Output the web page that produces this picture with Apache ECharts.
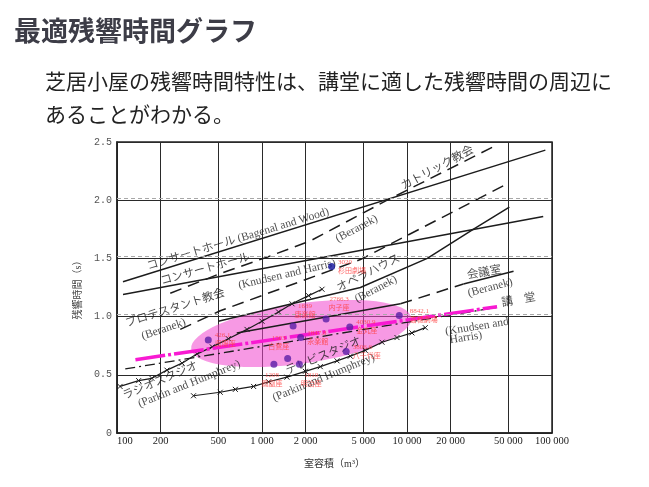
<!DOCTYPE html>
<html><head><meta charset="utf-8">
<script src="https://cdn.jsdelivr.net/npm/echarts@6/dist/echarts.min.js"></script>
<style>html,body{margin:0;padding:0;background:#fff}#c{width:649px;height:487px}</style>
</head><body><div id="c"></div>
<script>
// ---------------- data ----------------
const xTickValues = [100, 200, 500, 1000, 2000, 5000, 10000, 20000, 50000, 100000];
const yTickStep = 0.5;

// optimum reverberation curves: [room volume m3, reverberation time s]
const bagenalWood    = [[110, 1.30], [90000, 2.43]];
const concertBeranek = [[233, 1.20], [515, 1.37], [1080, 1.51], [2150, 1.65], [7300, 2.00], [39500, 2.46]];
const concertKnudsen = [[110, 1.19], [87000, 1.86]];
const protestant     = [[273, 0.89], [515, 1.05], [4770, 1.49], [49000, 2.14]];
const opera          = [[500, 0.96], [4770, 1.25], [13800, 1.50], [28600, 1.75], [50800, 1.94]];
const conference     = [[670, 0.86], [9000, 1.11], [24500, 1.28], [54300, 1.39]];
const auditorium     = [[114, 0.55], [42000, 1.08]];
const auditoriumPink = [[134, 0.63], [41800, 1.085]];
const radioStudio    = [[105, 0.40], [141, 0.45], [174, 0.47], [221, 0.54], [281, 0.60], [357, 0.68], [454, 0.74], [586, 0.81], [788, 0.89], [1000, 0.96], [1300, 1.04], [1610, 1.11], [2095, 1.18], [2594, 1.235]];
const tvStudio       = [[337, 0.32], [515, 0.35], [655, 0.375], [875, 0.40], [1111, 0.44], [1486, 0.48], [1990, 0.53], [2524, 0.57], [3290, 0.62], [4064, 0.66], [5150, 0.71], [6724, 0.78], [8530, 0.82], [10810, 0.86], [13370, 0.905]];

// measured theatres (芝居小屋)
const hallNames   = ['呉服座', '康楽館', '内子座', '嘉穂劇場', '金丸座', '永楽館', '白鷺座', '鳳凰座', '明治座', '八千代座'];
const hallVolumes = [426.1, 1639, 2766.3, 8842.1, 4030.9, 1847.8, 1503, 1208, 1810, 3806.6];
const hallRT      = [0.80, 0.92, 0.98, 1.01, 0.91, 0.82, 0.64, 0.59, 0.59, 0.70];
const refNames    = ['杉田劇場'];
const refVolumes  = [3020];
const refRT       = [1.43];

// highlighted region (major-axis ends, data space)
const ellipseEnds = [[325, 0.72], [10700, 0.99]];

// dashed guide lines from the slide overlay
const guideRT = [2.02, 1.52, 1.025];

// curve labels
const curveLabelText = ['コンサートホール (Bagenal and Wood)', 'コンサートホール', '(Beranek)', '(Knudsen and Harris)', 'カトリック教会', 'オペラハウス', '(Beranek)', 'プロテスタント教会', '(Beranek)', '会議室', '(Beranek)', '講　堂', '(Knudsen and', 'Harris)', 'ラジオスタジオ', '(Parkin and Humphrey)', 'テレビスタジオ', '(Parkin and Humphrey)'];
const curveLabelVol  = [683, 406, 4500, 1486, 16250, 5430, 6110, 252, 210, 34100, 37500, 58900, 30400, 25500, 199, 315, 2660, 2660];
const curveLabelRT   = [1.665, 1.406, 1.755, 1.363, 2.275, 1.372, 1.235, 1.071, 0.891, 1.377, 1.248, 1.14, 0.913, 0.819, 0.447, 0.421, 0.661, 0.475];

// ---------------- styles ----------------
const curveLabelAngle = [17, 15.6, 28, 13.2, 28.2, 26.6, 27.4, 17.5, 18.4, 10, 15, 10, 9, 9, 23, 22, 22.4, 22.4];
const hallLabelPos    = ['right', 'top', 'top', 'right', 'right', 'right', 'top', 'bottom', 'bottom', 'right'];
const hallLabelOffset = [[0, 0], [12, 0], [13, 0], [4, 0], [0, 0], [0, 0], [-9, 0], [-2, 0], [12, 0], [0, 0]];
const conferenceSegType = ['solid', [12, 7], 'solid'];
const ink = '#1c1c1c';
const serif = '"Liberation Serif", "Noto Sans CJK JP", serif';
const xMark = 'path://M0 0L10 10M10 0L0 10';

function fmtVol(v) { return String(Math.round(v)).replace(/\B(?=(\d{3})+(?!\d))/g, ' '); }
function curve(data, type, width, z) {
  return { type: 'line', data: data, symbol: 'none', showSymbol: false, silent: true, z: z || 3,
    lineStyle: { color: ink, width: width || 1.5, type: type || 'solid' } };
}
function marked(data) {
  return { type: 'line', data: data, symbol: xMark, symbolSize: 5, showSymbol: true, silent: true, z: 3,
    itemStyle: { color: 'rgba(0,0,0,0)', borderColor: ink, borderWidth: 1 },
    lineStyle: { color: ink, width: 1.2 } };
}

const series = [];
// highlighted ellipse
series.push({
  type: 'custom', silent: true, z: 1, data: [[1000, 1]],
  renderItem: function (params, api) {
    const p1 = api.coord(ellipseEnds[0]), p2 = api.coord(ellipseEnds[1]);
    const dx = p2[0] - p1[0], dy = p2[1] - p1[1];
    const a = Math.hypot(dx, dy) / 2, b = 30;
    return { type: 'circle', shape: { cx: 0, cy: 0, r: b },
      x: (p1[0] + p2[0]) / 2, y: (p1[1] + p2[1]) / 2, scaleX: a / b, scaleY: 1,
      rotation: Math.atan2(-dy, dx),
      style: { fill: 'rgba(240,70,205,0.55)' } };
  }
});
// curves
const bw = curve(bagenalWood);
bw.markLine = { silent: true, symbol: 'none', label: { show: false },
  lineStyle: { color: '#a8a8a8', type: [4, 3], width: 1 },
  data: guideRT.map(v => ({ yAxis: v })) };
series.push(bw);
series.push(curve(concertBeranek, [12, 7]));
series.push(curve(concertKnudsen));
series.push(curve(protestant, [12, 7]));
series.push(curve(opera));
for (let i = 0; i < conference.length - 1; i++) {
  series.push(curve([conference[i], conference[i + 1]], conferenceSegType[i]));
}
series.push(curve(auditorium, [10, 4, 2, 4], 1.3));
series.push(marked(radioStudio));
series.push(marked(tvStudio));
const pink = curve(auditoriumPink, [30, 3, 3, 3], 3.5, 4);
pink.lineStyle.color = '#f81ad2';
series.push(pink);

// curve labels
series.push({
  type: 'scatter', silent: true, symbolSize: 0, z: 6,
  data: curveLabelText.map((t, i) => ({
    value: [curveLabelVol[i], curveLabelRT[i]], name: t,
    label: { rotate: curveLabelAngle[i] }
  })),
  label: { show: true, position: 'inside', formatter: p => p.name, align: 'center', verticalAlign: 'middle',
    color: ink, fontSize: 11.5, fontFamily: serif }
});
// theatre points
const redLabel = { show: true, color: '#ff3d3d', fontSize: 7, lineHeight: 9, fontFamily: serif, distance: 3 };
series.push({
  type: 'scatter', silent: true, symbolSize: 7, z: 7,
  itemStyle: { color: '#5a1ea6' },
  data: hallNames.map((n, i) => ({
    value: [hallVolumes[i], hallRT[i]], name: n,
    label: Object.assign({}, redLabel, { position: hallLabelPos[i], offset: hallLabelOffset[i],
      align: hallLabelPos[i] === 'right' ? 'left' : 'center' })
  })),
  label: Object.assign({}, redLabel, { formatter: p => p.value[0] + '\n' + p.name })
});
series.push({
  type: 'scatter', silent: true, symbolSize: 7, z: 7,
  itemStyle: { color: '#10109a' },
  data: refNames.map((n, i) => ({ value: [refVolumes[i], refRT[i]], name: n })),
  label: Object.assign({}, redLabel, { position: 'right', align: 'left', formatter: p => p.value[0] + '\n' + p.name })
});

const chart = echarts.init(document.getElementById('c'), null, { renderer: 'canvas' });
chart.setOption({
  animation: false,
  backgroundColor: '#fff',
  title: [
    { text: '最適残響時間グラフ', left: 9, top: 12,
      textStyle: { fontSize: 27, fontWeight: 'bold', color: '#3d3d47', fontFamily: '"Noto Sans CJK JP", sans-serif' } },
    { text: '芝居小屋の残響時間特性は、講堂に適した残響時間の周辺に\nあることがわかる。', left: 40, top: 60,
      textStyle: { fontSize: 21, fontWeight: 'normal', color: '#222', lineHeight: 33, fontFamily: '"Noto Sans CJK JP", sans-serif' } }
  ],
  grid: { left: 117, right: 97, top: 142, bottom: 54, show: true, borderColor: '#222', borderWidth: 1.5, backgroundColor: 'transparent' },
  xAxis: {
    type: 'log', logBase: 10, min: 100, max: 100000,
    name: '室容積（m³）', nameLocation: 'middle', nameGap: 26,
    nameTextStyle: { fontSize: 10, color: '#333', fontFamily: serif },
    axisLine: { show: true, lineStyle: { color: '#222', width: 1.5 } },
    axisTick: { show: false, customValues: xTickValues },
    axisLabel: { customValues: xTickValues, formatter: v => fmtVol(v), margin: 3, alignMinLabel: 'left',
      fontSize: 10.5, color: '#222', fontFamily: serif },
    splitLine: { show: true, lineStyle: { color: '#2a2a2a', width: 1 } },
    minorSplitLine: { show: false }
  },
  yAxis: {
    type: 'value', min: 0, max: 2.5, interval: yTickStep,
    name: '残響時間（s）', nameLocation: 'middle', nameGap: 34, nameRotate: 90,
    nameTextStyle: { fontSize: 10, color: '#444', fontFamily: serif },
    axisLine: { show: true, lineStyle: { color: '#222', width: 1.5 } },
    axisTick: { show: false },
    axisLabel: { formatter: v => v === 0 ? '0' : v.toFixed(1), margin: 5, fontSize: 10,
      color: '#555', fontFamily: '"Liberation Mono", monospace' },
    splitLine: { show: true, lineStyle: { color: '#2a2a2a', width: 1.2 } }
  },
  series: series
});
</script>
</body></html>
